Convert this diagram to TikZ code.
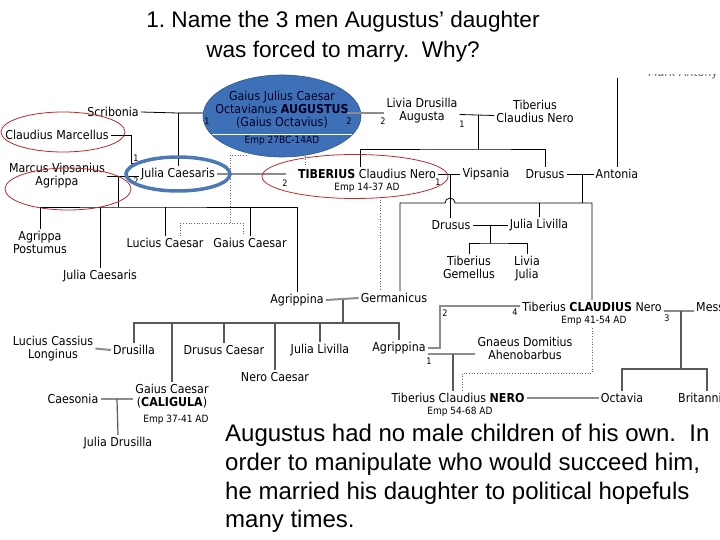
\documentclass[tikz,border=0pt]{standalone}
\usepackage{fontspec}
\setmainfont{Liberation Sans}
\newfontfamily\treefont{DejaVu Sans Condensed}
\usetikzlibrary{positioning, shapes.geometric, calc}
\definecolor{augblue}{RGB}{62,112,183}
\definecolor{augedge}{RGB}{45,85,150}
\definecolor{ringblue}{RGB}{76,121,181}
\definecolor{ringred}{RGB}{192,40,45}
\definecolor{wedgray}{RGB}{140,140,140}

\begin{document}
\begin{tikzpicture}[x=1pt, y=-1pt,
    person/.style = {font=\treefont\fontsize{12.3}{13}\selectfont, align=center, inner sep=2pt},
    emp/.style = {font=\treefont\fontsize{10}{10}\selectfont, inner sep=1pt},
    num/.style = {font=\treefont\fontsize{9}{9}\selectfont, inner sep=0pt},
    kin/.style = {draw=black, line width=0.8pt},
    kids/.style = {draw=black!65, line width=1.2pt},
    wed/.style = {draw=wedgray, line width=2pt},
    adopt/.style = {draw=black!60, line width=0.7pt, dotted},
    ring/.style = {draw=ringred, line width=0.8pt}]
\useasboundingbox (0,0) rectangle (720,540);

% question
\node[font=\fontsize{22.6}{30}\selectfont, align=center] (title) at (343,37)
    {1.\ Name the 3 men Augustus’ daughter\\was forced to marry.\ \ Why?};

% Augustus
\node[ellipse, fill=augblue, draw=augedge, line width=0.6pt,
      minimum width=158pt, minimum height=82pt, inner sep=0pt] (aug) at (282,116) {};
\node[person, text=black!85!blue] (augname) at (282,110)
    {Gaius Julius Caesar\\Octavianus \textbf{AUGUSTUS}\\(Gaius Octavius)};
\draw[white, line width=0.8pt] (212,134) -- (352,134);
\node[emp, text=black!85!blue] (augemp) at (282,141) {Emp 27BC-14AD};

% people
\begin{scope}
  \clip (600,75) rectangle (720,100);
  \node[person, text=black!60] (antony) at (683,73) {Mark Antony};
\end{scope}
\node[person] (scrib) at (113,112) {Scribonia};
\node[person] (marcellus) at (57,135) {Claudius Marcellus};
\node[person] (agrippa) at (57,176) {Marcus Vipsanius\\Agrippa};
\node[person] (julia) at (178,174) {Julia Caesaris};
\node[person] (livia) at (422,110.5) {Livia Drusilla\\Augusta};
\node[person] (tcn) at (535,111.5) {Tiberius\\Claudius Nero};
\node[person] (tiberius) at (367,174) {\textbf{TIBERIUS} Claudius Nero};
\node[emp] (tibemp) at (367,188) {Emp 14-37 AD};
\node[person] (vipsania) at (486,174) {Vipsania};
\node[person] (drusus) at (545,174) {Drusus};
\node[person] (antonia) at (617,174) {Antonia};
\node[person] (postumus) at (40,242) {Agrippa\\Postumus};
\node[person] (julia2) at (100,276) {Julia Caesaris};
\node[person] (lucius) at (165,243) {Lucius Caesar};
\node[person] (gaius) at (250,243) {Gaius Caesar};
\node[person] (agrippina) at (297,300) {Agrippina};
\node[person] (germanicus) at (394,298) {Germanicus};
\node[person] (drusus2) at (451,225) {Drusus};
\node[person] (livilla) at (539,225) {Julia Livilla};
\node[person] (gemellus) at (469,267.5) {Tiberius\\Gemellus};
\node[person] (liviaj) at (527,268.5) {Livia\\Julia};
\node[person] (claudius) at (592,307) {Tiberius \textbf{CLAUDIUS} Nero};
\node[emp] (claudemp) at (594,321) {Emp 41-54 AD};
\node[person, anchor=west] (messalina) at (694,307) {Messalina};
\node[person] (cassius) at (53,348.5) {Lucius Cassius\\Longinus};
\node[person] (drusilla) at (134,350) {Drusilla};
\node[person] (drususc) at (224,350) {Drusus Caesar};
\node[person] (neroc) at (275,377) {Nero Caesar};
\node[person] (livilla2) at (320,350) {Julia Livilla};
\node[person] (agrippina2) at (399,348) {Agrippina};
\node[person] (caligula) at (172,396) {Gaius Caesar\\(\textbf{CALIGULA})};
\node[emp] (calemp) at (176,420) {Emp 37-41 AD};
\node[person] (caesonia) at (73,399) {Caesonia};
\node[person] (drusilla2) at (118,443) {Julia Drusilla};
\node[person] (gnaeus) at (525,348.5) {Gnaeus Domitius\\Ahenobarbus};
\node[person] (nero) at (458,398) {Tiberius Claudius \textbf{NERO}};
\node[emp] (neroemp) at (460,412) {Emp 54-68 AD};
\node[person] (octavia) at (622,398) {Octavia};
\node[person, anchor=west] (britannicus) at (676,398) {Britannicus};

% order of marriage
\node[num] (naug1) at (207,121) {1};
\node[num] (naug2) at (349,121) {2};
\node[num] (nliv2) at (383,121) {2};
\node[num] (nliv1) at (462,124) {1};
\node[num] (njul1) at (136,158) {1};
\node[num] (njul2) at (136,181) {2};
\node[num] (ntib2) at (285,183) {2};
\node[num] (ntib1) at (438,182) {1};
\node[num] (nagr2) at (445,313) {2};
\node[num] (nclau4) at (515,312) {4};
\node[num] (nclau3) at (667,318) {3};
\node[num] (nagr1) at (429,361) {1};

% junctions
\coordinate (sjkid) at (178,113);
\coordinate (augR) at (347,113);
\coordinate (livmar) at (478,115);
\coordinate (livkids) at (478,149);
\coordinate (tibtop) at (360,149);
\coordinate (m1) at (131,163);
\coordinate (ajmar) at (118,176);
\coordinate (ajkids) at (118,207);
\coordinate (augadopt) at (246,152);
\coordinate (adbus) at (230,223);
\coordinate (adL) at (180,223);
\coordinate (adG) at (243,223);
\coordinate (augtib) at (305,151);
\coordinate (tibgerm) at (380,197);
\coordinate (tvmar) at (450,174);
\coordinate (dakids) at (582,203);
\coordinate (kgerm) at (400,203);
\coordinate (dlmar) at (490,225);
\coordinate (dlkids) at (490,243);
\coordinate (agmar) at (343,300);
\coordinate (agkids) at (343,323);
\coordinate (ccmar) at (117,399);
\coordinate (acA) at (440,306);
\coordinate (agmar2) at (453,354);
\coordinate (cnA) at (592,328);
\coordinate (cnB) at (462,373);
\coordinate (cmmar) at (681,311);
\coordinate (cmkids) at (681,369);
\coordinate (kbrit) at (707,369);
\coordinate (antonytop) at (617,78);

% Augustus and his wives
\draw[kin] (scrib.east) -- (sjkid);
\draw[wed] (sjkid) -- (sjkid -| aug.west);
\draw[kin] (sjkid) -- (julia.north);
\draw[wed] (augR) -- (augR -| livia.west);
\draw[kin] ([yshift=-4pt]livia.east) -- ([yshift=-4pt]tcn.west);
\draw[kin] (livmar) -- (livkids);
\draw[kin] (tibtop |- tiberius.north) -- (tibtop) -- (livkids) -| (drusus.north);

% Julia's husbands
\draw[kin] (marcellus.east) -| (m1) -- (m1 -| julia.west);
\draw[kin] (agrippa.east) -- (agrippa.east -| julia.west);
\draw[wed] (julia.east) -- ($(tiberius.west)+(-10,0)$);
\draw[kin] (ajmar) -- (ajkids);
\draw[kin] (postumus.north) |- (ajkids) -| (agrippina.north);
\foreach \kid in {julia2, lucius, gaius}
  \draw[kin] (\kid.north |- ajkids) -- (\kid.north);

% adoptions
\draw[adopt] (augadopt) -- ++(0,3) -| (adbus);
\draw[adopt] (adL |- lucius.north) -- (adL) -- (adG) -- (adG |- gaius.north);
\draw[adopt] (augtib) -- (augtib |- tiberius.north);
\draw[adopt] (tibgerm) -- (tibgerm |- germanicus.north);
\draw[adopt] (cnA) |- (cnB) -- (cnB |- nero.north);

% Tiberius, Drusus and Antonia
\draw[kin] (tiberius.east) -- (vipsania.west);
\draw[kin] (tvmar) -- (tvmar |- drusus2.north);
\draw[kin] (antonytop) -- (antonia.north);
\draw[kin] (drusus.east) -- (antonia.west);
\draw[kin] (drusus.east -| dakids) -- (dakids);
\draw[kin] (kgerm |- germanicus.north) -- (kgerm) -- (445,203)
    arc[start angle=180, end angle=0, radius=5pt] -- (claudius.north |- dakids) -- (claudius.north);
\draw[kin] (livilla.north |- dakids) -- (livilla.north);
\draw[kin] (drusus2.east) -- (livilla.west);
\draw[kin] (dlmar) -- (dlkids);
\draw[kin] (gemellus.north) |- (dlkids) -| (liviaj.north);

% Germanicus and Agrippina
\draw[wed] (agrippina.east) -- (germanicus.west);
\draw[kids] (agmar) -- (agkids);
\draw[kids] (drusilla.north) |- (agkids) -| (agrippina2.north);
\foreach \kid in {caligula, drususc, neroc, livilla2}
  \draw[kids] (\kid.north |- agkids) -- (\kid.north);
\draw[wed] (cassius.east) -- (drusilla.west);
\draw[wed] (caesonia.east) -- (caesonia.east -| caligula.west);
\draw[kids] (ccmar) -- (drusilla2.north);

% Claudius and Nero
\draw[wed] (agrippina2.east) -| (acA) -- (acA -| claudius.west);
\draw[wed] (agmar2 -| agrippina2.east) -- (agmar2 -| gnaeus.west);
\draw[kids] (agmar2) -- (agmar2 |- nero.north);
\draw[wed] (cmmar -| claudius.east) -- (cmmar -| messalina.west);
\draw[kids] (cmmar) -- (cmkids);
\draw[kids] (octavia.north) |- (kbrit) -- (kbrit |- britannicus.north);
\draw[wed] (nero.east) -- (octavia.west);

% rings
\draw[ring] (63,132) ellipse [x radius=62, y radius=20];
\draw[ring] (68,189) ellipse [x radius=63, y radius=21];
\draw[ring] (355,176.5) ellipse [x radius=93, y radius=22];
\draw[draw=ringblue, line width=3.5pt] (julia.center) ellipse [x radius=52, y radius=17];

% answer
\node[font=\fontsize{24}{28.8}\selectfont, align=left, anchor=north west, inner sep=0pt] (answer) at (225,424)
    {Augustus had no male children of his own.\ \ In\\
     order to manipulate who would succeed him,\\
     he married his daughter to political hopefuls\\
     many times.};
\end{tikzpicture}
\end{document}
